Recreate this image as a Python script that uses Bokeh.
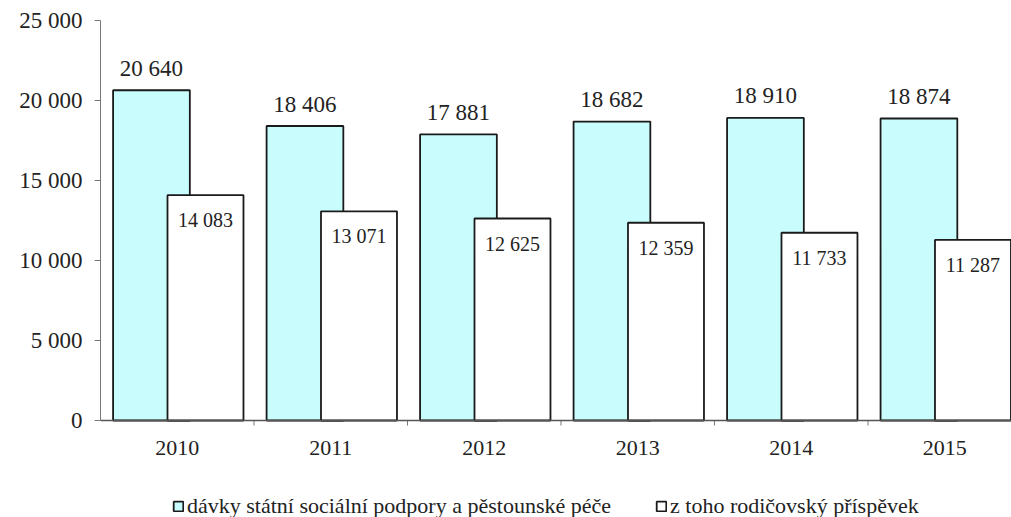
from bokeh.plotting import figure
from bokeh.models import (Range1d, FixedTicker, Legend, LegendItem,
                          ColumnDataSource, LinearAxis, Span)
from bokeh.core.properties import value
from bokeh.embed import file_html
from bokeh.resources import INLINE

# Data
years = ["2010", "2011", "2012", "2013", "2014", "2015"]
benefits_total = [20640, 18406, 17881, 18682, 18910, 18874]
parental_allowance = [14083, 13071, 12625, 12359, 11733, 11287]
y_ticks = [0, 5000, 10000, 15000, 20000, 25000]
y_tick_labels = ["0", "5 000", "10 000", "15 000", "20 000", "25 000"]
series_names = ["dávky státní sociální podpory a pěstounské péče",
                "z toho rodičovský příspěvek"]


def fmt(v):
    return f"{v:,}".replace(",", " ")


FONT = "Liberation Serif"
CYAN = "#c9fdfd"
INK = "#222222"

# 400 px of frame for 0..25 000; the frame continues below zero to hold
# the category labels and the legend.
Y_MAX = 25000
PX = Y_MAX / 400.0
Y_MIN = -97 * PX

idx = list(range(len(years)))
src = ColumnDataSource(dict(
    x1=[i - 0.168 for i in idx],
    x2=[i + 0.184 for i in idx],
    v1=benefits_total,
    v2=parental_allowance,
    t1=[fmt(v) for v in benefits_total],
    t2=[fmt(v) for v in parental_allowance],
))

p = figure(frame_width=911, frame_height=497, output_backend="svg",
           toolbar_location=None,
           x_range=Range1d(-0.5, 5.435), y_range=Range1d(Y_MIN, Y_MAX),
           x_axis_type=None, y_axis_type=None,
           min_border_left=100, min_border_right=0, min_border_top=20,
           min_border_bottom=0)
p.xgrid.visible = False
p.ygrid.visible = False
p.outline_line_color = None
p.background_fill_color = "white"
p.border_fill_color = "white"

r1 = p.vbar(x="x1", top="v1", width=0.5, bottom=0, source=src,
            fill_color=CYAN, line_color="#1a1a1a", line_width=1.8)
r2 = p.vbar(x="x2", top="v2", width=0.495, bottom=0, source=src,
            fill_color="white", line_color="#1a1a1a", line_width=1.8)

# Value labels: totals above the cyan bars, parental allowance inside the white bars
p.text(x="x1", y="v1", text="t1", source=src, text_align="center",
       text_baseline="alphabetic", y_offset=-22, text_font=value(FONT),
       text_font_size="23px", text_color=INK)
p.text(x="x2", y="v2", text="t2", source=src, text_align="center",
       text_baseline="alphabetic", y_offset=25, text_font=value(FONT),
       text_font_size="20px", text_color=INK)

# Value axis
yax = LinearAxis(ticker=FixedTicker(ticks=y_ticks, minor_ticks=[]),
                 major_label_overrides={t: l for t, l in zip(y_ticks, y_tick_labels)},
                 bounds=(0, Y_MAX))
yax.axis_line_color = "#777777"
yax.major_tick_line_color = "#777777"
yax.major_tick_out = 6
yax.major_tick_in = 0
yax.minor_tick_line_color = None
yax.major_label_text_font = FONT
yax.major_label_text_font_size = "23px"
yax.major_label_text_color = INK
yax.major_label_standoff = 12
p.add_layout(yax, "left")

# Category axis drawn at zero: baseline, boundary ticks and year labels
p.add_layout(Span(location=0, dimension="width", line_color="#555555",
                  line_width=1.5))
bounds_x = [i + 0.5 for i in idx]
p.segment(x0=bounds_x, y0=[0] * len(bounds_x), x1=bounds_x,
          y1=[-5 * PX] * len(bounds_x), line_color="#777777", line_width=1)
p.text(x=idx, y=[0] * len(idx), text=years, text_align="center",
       text_baseline="middle", y_offset=27, text_font=value(FONT),
       text_font_size="22px", text_color=INK)

legend = Legend(items=[LegendItem(label=series_names[0], renderers=[r1]),
                       LegendItem(label=series_names[1], renderers=[r2])],
                orientation="horizontal", location=(72, -2),
                label_text_font=FONT, label_text_font_size="22px",
                label_text_color=INK, glyph_width=12, glyph_height=12,
                spacing=44, label_standoff=3, margin=0, padding=0,
                border_line_color=None, background_fill_alpha=0)
p.add_layout(legend)

open("out.html", "w").write(file_html(p, INLINE))
